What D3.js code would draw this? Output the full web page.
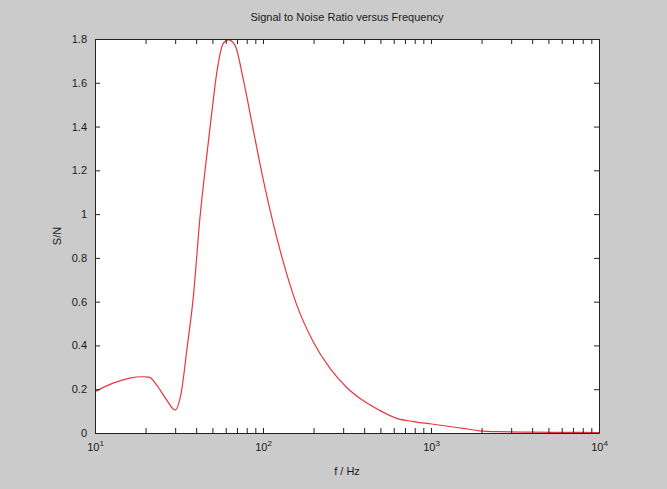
<!DOCTYPE html>
<html>
<head>
<meta charset="utf-8">
<script src="https://cdn.jsdelivr.net/npm/d3@7"></script>
<style>
  html, body { margin: 0; padding: 0; background: #cbcbcb; }
  svg { display: block; }
  text { font-family: "Liberation Sans", Arial, Helvetica, sans-serif; fill: #1a1a1a; }
</style>
</head>
<body>
<svg id="chart" width="667" height="489"></svg>
<script>
// ---- data ----
const freqHz = [10, 12.8, 16.1, 19, 21, 23.3, 26.7, 29.9, 32.8, 35.2, 38.5, 42.2, 45.2, 49.5, 53, 58, 62.2, 68, 76.4, 87.5, 100.4, 115, 130, 158, 199, 250, 315, 396, 490, 625, 785, 1010, 1230, 1550, 1950, 2500, 4000, 6000, 10000];
const snr    = [0.189, 0.228, 0.251, 0.257, 0.255, 0.219, 0.151, 0.105, 0.196, 0.379, 0.623, 0.988, 1.201, 1.46, 1.643, 1.78, 1.796, 1.773, 1.613, 1.385, 1.156, 0.958, 0.80, 0.59, 0.417, 0.296, 0.208, 0.147, 0.105, 0.067, 0.052, 0.041, 0.032, 0.021, 0.01, 0.006, 0.004, 0.003, 0.002];
const yTicks = [0, 0.2, 0.4, 0.6, 0.8, 1, 1.2, 1.4, 1.6, 1.8];
const xDecades = [10, 100, 1000, 10000];
const titleText = "Signal to Noise Ratio versus Frequency";
const xLabelText = "f / Hz";
const yLabelText = "S/N";

// ---- layout ----
const L = 95, R = 599, T = 39, B = 433;
const svg = d3.select("#chart");

const x = d3.scaleLog().domain([10, 10000]).range([L, R]);
const y = d3.scaleLinear().domain([0, 1.8]).range([B, T]);

// minor + major x tick values
const xAll = [];
xDecades.slice(0, -1).forEach(d => { for (let m = 1; m < 10; m++) xAll.push(d * m); });
xAll.push(10000);

// plot background
svg.append("rect").attr("x", L).attr("y", T).attr("width", R - L).attr("height", B - T).attr("fill", "#ffffff");

// curve
const line = d3.line().x((d, i) => x(freqHz[i])).y(d => y(d)).curve(d3.curveMonotoneX);
svg.append("path").datum(snr).attr("d", line)
  .attr("fill", "none").attr("stroke", "#e8363e").attr("stroke-width", 1.2);

// axes
const fmt = d => xDecades.includes(d) ? "10" : "";
const gBottom = svg.append("g").attr("transform", `translate(0,${B})`)
  .call(d3.axisBottom(x).tickValues(xAll).tickSizeInner(-5).tickSizeOuter(0).tickPadding(10).tickFormat(fmt));
const gTop = svg.append("g").attr("transform", `translate(0,${T})`)
  .call(d3.axisTop(x).tickValues(xAll).tickSizeInner(-5).tickSizeOuter(0).tickFormat(""));
const gLeft = svg.append("g").attr("transform", `translate(${L},0)`)
  .call(d3.axisLeft(y).tickValues(yTicks).tickSizeInner(-5).tickSizeOuter(0).tickPadding(8).tickFormat(d3.format("~g")));
const gRight = svg.append("g").attr("transform", `translate(${R},0)`)
  .call(d3.axisRight(y).tickValues(yTicks).tickSizeInner(-5).tickSizeOuter(0).tickFormat(""));

[gBottom, gTop, gLeft, gRight].forEach(g => {
  g.selectAll("path.domain").attr("stroke", "#222").attr("stroke-width", 1);
  g.selectAll(".tick line").attr("stroke", "#222");
  g.selectAll("text").attr("font-size", 11).attr("fill", "#1a1a1a")
    .attr("font-family", '"Liberation Sans", Arial, sans-serif');
});

// superscript exponents on decade labels
gBottom.selectAll(".tick text").each(function(d) {
  if (!xDecades.includes(d)) return;
  const t = d3.select(this);
  t.text("").attr("text-anchor", "middle");
  t.append("tspan").text("10");
  t.append("tspan").attr("dy", "-0.55em").attr("font-size", 8).text(Math.round(Math.log10(d)));
});

// titles
svg.append("text").attr("x", (L + R) / 2).attr("y", 21).attr("text-anchor", "middle")
  .attr("font-size", 11).text(titleText);
svg.append("text").attr("x", (L + R) / 2).attr("y", 475).attr("text-anchor", "middle")
  .attr("font-size", 11).text(xLabelText);
svg.append("text").attr("transform", `translate(61,${(T + B) / 2}) rotate(-90)`).attr("text-anchor", "middle")
  .attr("font-size", 11).text(yLabelText);
</script>
</body>
</html>
